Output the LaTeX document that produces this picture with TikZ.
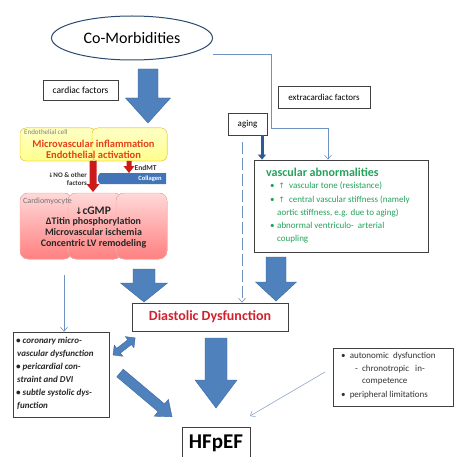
\documentclass[tikz,border=0pt]{standalone}
\usepackage{fontspec}
\setmainfont{Carlito}
\newfontfamily\symfont{DejaVu Sans}
\usetikzlibrary{arrows.meta,shapes.geometric}
\definecolor{bblue}{HTML}{4F81BD}
\definecolor{bbord}{HTML}{3A679E}
\definecolor{tblue}{HTML}{6F92C2}
\definecolor{gblue}{HTML}{8FA8C4}
\definecolor{vgreen}{HTML}{24A25C}
\definecolor{ddred}{HTML}{D2202C}
\definecolor{endored}{HTML}{E2421E}
\definecolor{arrred}{HTML}{CC1A1A}
\definecolor{collblue}{HTML}{4274B8}
\definecolor{navy}{HTML}{2C4A70}
\definecolor{darkb}{HTML}{2F5A96}
\newcommand{\fs}[1]{\fontsize{#1}{#1}\selectfont}
\newcommand{\blockarr}[6]{%
  \filldraw[fill=bblue, draw=bbord, line width=0.4pt]
   (#1-#5,#2) -- (#1+#5,#2) -- (#1+#5,#3) -- (#1+#6,#3) -- (#1,#4) -- (#1-#6,#3) -- (#1-#5,#3) -- cycle;}
\begin{document}
\begin{tikzpicture}[x=1pt,y=-1pt,
  box/.style={draw=black!75, line width=0.7pt, inner sep=0pt, fill=white},
  thinarr/.style={draw=tblue, line width=0.6pt, -{Straight Barb[length=4pt,width=7pt]}},
  txt/.style={inner sep=0pt, anchor=base west},
  ctxt/.style={inner sep=0pt, anchor=center}]
\fill[white] (0,0) rectangle (454,457);
\useasboundingbox (0,0) rectangle (454,457);

% column coordinates
\coordinate (xv) at (328,0);
\coordinate (xa) at (262,0);
\coordinate (xd) at (242,0);
\coordinate (xl) at (64,0);

% Co-morbidities
\node[ellipse, draw=navy, line width=1pt, minimum width=161pt, minimum height=44pt, inner sep=0pt] (como) at (132,38) {\fs{16}Co-Morbidities};
\coordinate (cstart) at (213,54);
\coordinate (cbend) at (271,128);

% small boxes
\node[box, minimum width=75pt, minimum height=20pt] (cf) at (80.5,90) {\fs{9.5}cardiac factors};
\node[box, minimum width=92pt, minimum height=22pt] (ef) at (324,97) {\fs{9}extracardiac factors};
\node[box, minimum width=39pt, minimum height=22pt] (aging) at (247.5,124) {\fs{9}aging};

% big arrow from comorbidities
\blockarr{148}{69}{98}{123}{10}{22.5}

% endothelial cell (yellow)
\filldraw[top color=yellow!22, bottom color=yellow!45, draw=yellow!70!orange!80, line width=0.5pt, rounded corners=6pt] (20,128) rectangle (96,161);
\filldraw[top color=yellow!22, bottom color=yellow!45, draw=yellow!70!orange!80, line width=0.5pt, rounded corners=6pt] (92,128) rectangle (167,161);
\node[txt, text=black!50] (endlab) at (24,135) {\fs{7}Endothelial cell};
\node[ctxt, text=endored, font=\bfseries] (mi) at (93.5,144) {\fs{10.5}Microvascular inflammation};
\node[ctxt, text=endored, font=\bfseries] (ea) at (93.5,155) {\fs{10.5}Endothelial activation};

% cardiomyocyte (pink)
\foreach \a/\b in {20/72, 68/122, 116/167}{
  \filldraw[top color=red!15, bottom color=red!50, draw=red!30, line width=0.5pt, rounded corners=8pt] (\a,193) rectangle (\b,259);}
\node[txt, text=black!55] (cmlab) at (23,203) {\fs{8}Cardiomyocyte};
\node[ctxt, font=\bfseries, text=black!85] (cg) at (93,211) {{\symfont\fs{9}↓}\fs{11.5}cGMP};
\node[ctxt, font=\bfseries, text=black!85] (ti) at (93.5,222) {\fs{10}ΔTitin phosphorylation};
\node[ctxt, font=\bfseries, text=black!85] (mis) at (93.5,232.5) {\fs{10}Microvascular ischemia};
\node[ctxt, font=\bfseries, text=black!85] (clv) at (93.5,243.5) {\fs{10}Concentric LV remodeling};

% collagen band
\fill[collblue] (100,173) .. controls (97,176) and (97,181) .. (100,184) -- (166,184) -- (166,173) -- cycle;
\node[ctxt, text=white, font=\bfseries] (coll) at (150,179) {\fs{6.5}Collagen};

% red arrows
\fill[arrred] (93-3.5,161) -- (93+3.5,161) -- (93+3.5,184) -- (93+6.5,184) -- (93,192) -- (93-6.5,184) -- (93-3.5,184) -- cycle;
\fill[arrred] (129-2.5,161) -- (129+2.5,161) -- (129+2.5,166) -- (129+5.5,166) -- (129,173) -- (129-5.5,166) -- (129-2.5,166) -- cycle;
\node[txt, font=\bfseries, text=black!80] (endmt) at (134.5,170.5) {\fs{7.5}EndMT};
\node[inner sep=0pt, anchor=base east, font=\bfseries, text=black!80] (no) at (87,177.5) {{\symfont\fs{6}↓}\fs{7}NO \& other};
\node[inner sep=0pt, anchor=base east, font=\bfseries, text=black!80] (fac) at (87,185) {\fs{7}factors};

% vascular abnormalities box
\node[box, minimum width=174pt, minimum height=92pt, line width=0.8pt] (vasc) at (341,206) {};
\node[txt, text=vgreen, font=\bfseries] (vh) at (266,176) {\fs{12}vascular abnormalities};
\node[txt, text=vgreen] (vb1) at (270,188) {\fs{9}•};
\node[txt, text=vgreen] (v1) at (278.5,188) {{\symfont\fs{7.5}↑}\fs{9}\ \ vascular tone (resistance)};
\node[txt, text=vgreen] (vb2) at (270,202) {\fs{9}•};
\node[txt, text=vgreen] (v2) at (278.5,202) {{\symfont\fs{7.5}↑}\fs{9}\ \ central vascular stiffness (namely};
\node[txt, text=vgreen] (v3) at (277,215) {\fs{9}aortic stiffness, e.g. due to aging)};
\node[txt, text=vgreen] (vb4) at (270,228) {\fs{9}•};
\node[txt, text=vgreen] (v4) at (277,228) {\fs{9}abnormal ventriculo-\ \ arterial};
\node[txt, text=vgreen] (v5) at (277,241) {\fs{9}coupling};

% connectors from comorbidities to vascular box
\draw[thinarr] (cstart) -| (cbend) -| (xv |- vasc.north);
\draw[draw=darkb, line width=3pt, -{Triangle[length=5pt,width=8pt]}] (xa |- aging.south) -- (xa |- vasc.north);

% diastolic dysfunction
\node[box, minimum width=156pt, minimum height=28pt, line width=0.8pt] (dd) at (210,317) {\fs{14}\bfseries\color{ddred}Diastolic Dysfunction};
\coordinate (dstart) at (242,142);
\draw[thinarr, dash pattern=on 12pt off 4pt] (dstart) -- (xd |- dd.north);

\blockarr{144}{269}{283}{302}{11}{23.5}
\blockarr{276}{257}{282}{301}{10}{20.5}
\blockarr{216}{338}{380}{408}{11}{21}

% left box
\node[box, minimum width=96pt, minimum height=85pt] (lb) at (61,374.5) {};
\begin{scope}[every node/.style={txt, font=\bfseries\itshape, text=black!85}]
\node (l1) at (16,343) {\fs{9}• coronary micro-};
\node (l2) at (17,356) {\fs{9}vascular dysfunction};
\node (l3) at (16,369) {\fs{9}• pericardial con-};
\node (l4) at (17,382) {\fs{9}straint and DVI};
\node (l5) at (16,395) {\fs{9}• subtle systolic dys-};
\node (l6) at (17,408) {\fs{9}function};
\end{scope}
\coordinate (lstart) at (64,275);
\draw[thinarr] (lstart) -- (xl |- lb.north);

% double arrow left box <-> diastolic
\begin{scope}[shift={(113,355)}, rotate=37.7]
\filldraw[fill=bblue, draw=bbord, line width=0.4pt] (0,0) -- (7,-7) -- (7,-3) -- (21,-3) -- (21,-7) -- (28,0) -- (21,7) -- (21,3) -- (7,3) -- (7,7) -- cycle;
\end{scope}
% diagonal arrow left box -> HFpEF
\begin{scope}[shift={(120,373)}, rotate=-40.1]
\filldraw[fill=bblue, draw=bbord, line width=0.4pt] (0,-5) -- (54,-5) -- (54,-11) -- (68,0) -- (54,11) -- (54,5) -- (0,5) -- cycle;
\end{scope}

% right box
\node[box, minimum width=120pt, minimum height=58pt] (rb) at (393,377) {};
\begin{scope}[every node/.style={txt, text=black!80}]
\node (r1) at (341,358) {\fs{9}•\ \ autonomic\ \ dysfunction};
\node (r2) at (355,371) {\fs{9}-\ \ chronotropic\ \ \ in-};
\node (r3) at (362,383.5) {\fs{9}competence};
\node (r4) at (341,397) {\fs{9}•\ \ peripheral limitations};
\end{scope}

% HFpEF
\node[box, minimum width=68pt, minimum height=33pt, line width=0.8pt] (hf) at (216,443.5) {\fs{21}\bfseries HFpEF};
\coordinate (rstart) at (325,372);
\coordinate (hend) at (250,416);
\draw[draw=gblue, line width=0.6pt, -{Straight Barb[length=4pt,width=7pt]}] (rstart) -- (hend);
\end{tikzpicture}
\end{document}
